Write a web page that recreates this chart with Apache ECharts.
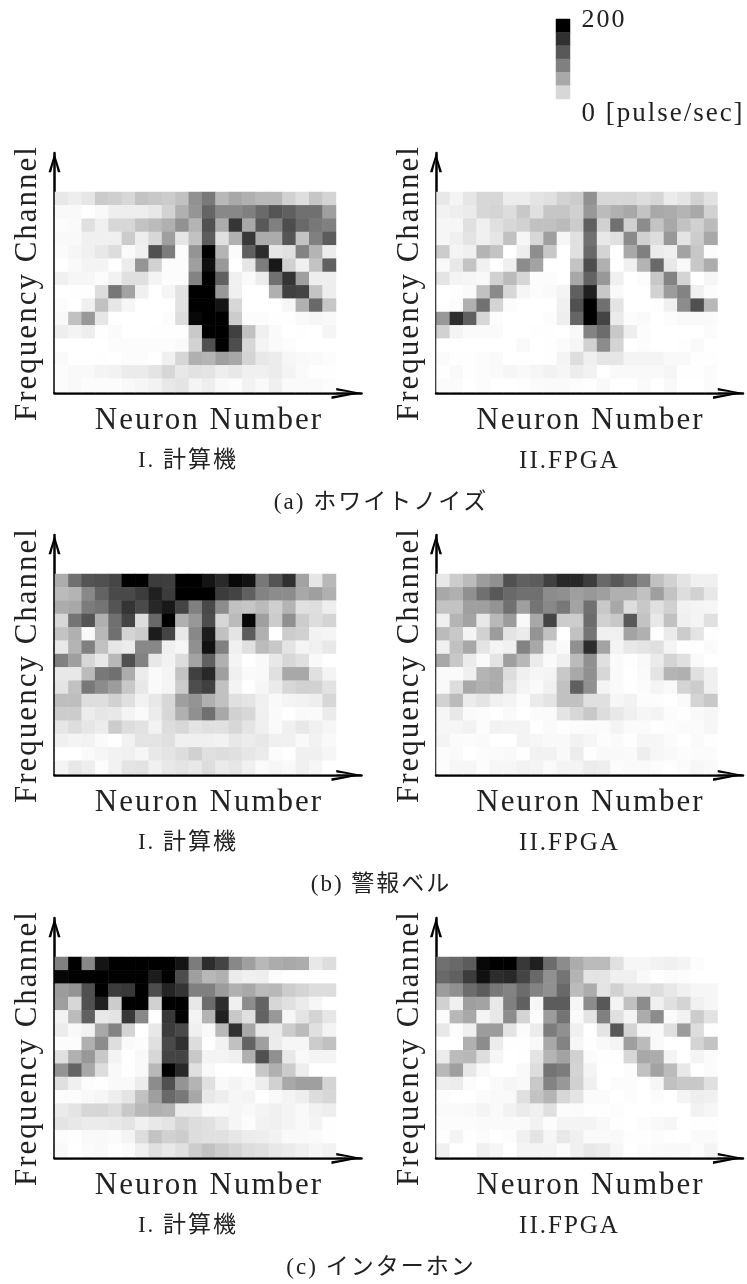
<!DOCTYPE html>
<html lang="ja">
<head>
<meta charset="utf-8">
<style>html,body{margin:0;padding:0;background:#fff}#c{width:747px;height:1284px}</style>
<script src="https://cdn.jsdelivr.net/npm/echarts@6/dist/echarts.min.js"></script>
</head>
<body>
<div id="c"></div>
<script>
// Values: firing rate [pulse/sec], 15 frequency channels (top to bottom) x 21 neurons
const whiteNoiseComputer = [
[18,13,20,41,38,31,47,43,40,49,86,105,56,68,62,56,56,36,26,45,34],
[5,5,0,5,13,13,13,18,35,62,83,121,93,93,100,117,133,125,112,112,75],
[2,4,24,12,31,31,47,53,62,86,59,137,65,158,68,131,100,140,118,106,100],
[5,5,12,12,12,40,13,31,75,20,48,128,24,62,156,65,65,133,47,100,128],
[3,7,12,18,27,4,12,137,102,2,84,200,59,3,125,165,20,24,97,59,15],
[0,5,9,9,1,15,84,36,2,2,75,189,81,0,20,102,181,36,12,47,125],
[12,7,7,2,10,24,24,9,2,2,97,200,125,12,4,15,112,159,75,13,13],
[0,1,1,27,107,72,12,0,8,23,200,200,81,12,0,0,62,150,147,47,13],
[2,0,12,49,20,7,0,0,0,23,200,200,184,31,0,0,0,7,62,118,45],
[5,49,81,20,0,0,0,0,2,27,194,200,200,40,2,2,1,1,5,7,5],
[13,9,13,1,4,0,0,1,1,1,42,200,200,150,49,12,4,0,1,0,8],
[0,0,0,0,2,2,2,2,2,4,35,137,200,140,31,9,4,2,0,0,0],
[4,0,0,1,0,2,2,0,12,32,62,59,75,68,34,18,15,7,5,4,2],
[2,5,5,9,10,16,16,21,32,18,23,21,13,18,12,12,15,9,4,1,1],
[2,5,2,2,2,5,7,10,18,21,9,13,5,2,10,5,12,4,4,4,2]];
const whiteNoiseFpga = [
[18,9,20,31,31,15,15,21,24,35,40,86,31,31,32,27,32,16,21,35,23],
[10,13,16,31,34,27,43,24,45,45,36,81,53,62,68,47,68,65,59,68,35],
[7,7,24,12,24,31,36,49,49,53,40,125,36,112,36,90,47,68,48,36,53],
[7,12,21,12,20,49,7,31,75,7,24,112,18,24,92,36,27,81,21,40,68],
[40,9,12,59,47,0,13,89,43,0,24,118,34,0,68,100,15,12,72,45,2],
[5,18,47,12,0,12,90,72,0,0,47,140,62,0,12,59,118,18,5,43,65],
[21,9,7,5,36,53,31,2,2,0,68,122,81,12,0,2,43,97,34,0,7],
[0,1,4,49,92,31,7,2,4,9,125,175,43,5,0,0,35,78,97,12,2],
[0,2,62,111,34,2,0,0,0,12,137,200,111,21,0,0,1,12,90,137,56],
[81,165,125,31,2,0,0,0,2,13,120,200,147,16,2,4,0,2,5,5,4],
[36,9,4,4,4,0,0,1,1,0,5,97,115,43,13,2,0,0,0,0,3],
[0,0,0,0,0,0,5,0,1,3,7,36,90,34,0,2,0,0,1,5,0],
[3,1,1,2,4,0,0,0,1,9,26,12,20,20,9,9,9,5,5,1,1],
[1,5,1,2,4,7,5,7,10,7,15,10,0,5,5,5,5,7,1,1,3],
[3,3,0,2,0,0,1,3,4,4,2,1,5,0,0,4,0,5,0,0,3]];
const alarmBellComputer = [
[64,112,134,137,145,200,200,153,151,200,200,184,167,194,186,106,134,162,72,20,56],
[53,59,93,122,143,143,153,175,153,200,200,200,153,147,125,97,90,90,68,75,62],
[65,68,103,109,134,159,142,169,181,147,100,143,90,49,45,53,38,59,24,26,13],
[31,109,134,62,112,147,27,118,200,62,81,140,31,53,195,75,40,87,40,27,34],
[47,62,5,56,112,34,40,178,147,18,93,178,49,21,128,62,0,40,36,10,8],
[18,59,100,49,20,15,93,93,12,7,87,187,100,12,24,53,43,21,9,12,18],
[100,75,31,18,56,137,97,18,10,27,72,125,62,9,1,5,18,31,24,5,0],
[18,18,53,106,112,65,15,4,9,47,150,169,75,12,4,5,24,68,68,24,9],
[21,49,106,90,78,43,18,4,9,40,140,150,49,9,0,7,16,31,36,35,23],
[51,51,26,26,36,24,10,18,31,75,84,62,49,24,21,12,5,9,10,13,31],
[40,40,15,20,18,9,4,15,31,62,87,112,68,36,31,12,4,1,5,4,16],
[20,27,20,15,40,27,23,10,27,31,21,24,24,31,21,12,4,12,18,12,7],
[12,9,10,4,0,10,21,21,24,12,12,12,10,18,15,18,12,12,5,10,5],
[0,0,4,7,10,12,7,18,21,27,36,24,27,24,20,16,2,0,12,12,7],
[9,18,13,2,10,21,23,12,18,21,18,27,16,20,12,4,7,5,12,7,0]];
const alarmBellFpga = [
[18,40,53,78,87,137,125,128,150,169,169,153,118,131,118,97,49,36,21,12,12],
[68,62,87,112,131,118,112,112,90,87,75,81,75,62,62,49,75,47,27,36,18],
[47,47,75,75,84,112,75,109,93,106,72,112,43,68,27,43,24,36,10,9,7],
[12,59,72,18,56,78,5,68,147,40,40,115,36,43,131,47,18,49,12,9,24],
[53,43,9,36,78,21,16,84,49,0,49,109,12,12,72,62,1,16,40,21,1],
[12,49,68,21,9,12,97,68,12,4,87,165,72,9,18,21,24,9,0,1,4],
[68,43,16,4,21,75,56,16,4,12,53,87,24,4,1,5,16,34,24,4,0],
[4,4,12,59,65,27,12,7,9,43,68,87,31,4,0,4,21,59,62,24,12],
[5,27,68,62,65,21,9,4,12,49,125,87,9,4,1,3,9,5,34,40,12],
[35,53,15,21,12,9,2,16,21,49,49,24,24,7,10,2,2,0,4,34,43],
[7,18,4,2,0,4,0,3,3,21,31,43,27,18,12,7,9,2,1,5,7],
[7,7,10,2,10,9,9,0,4,1,2,3,3,9,3,3,1,2,3,3,7],
[9,3,2,4,0,0,9,7,5,5,10,7,2,4,1,7,7,3,0,4,1],
[2,4,0,2,3,5,1,10,10,5,15,1,5,5,4,13,7,5,2,3,3],
[2,7,7,2,7,7,10,9,4,9,9,15,13,2,4,4,2,1,3,7,5]];
const intercomComputer = [
[100,200,93,184,200,200,200,200,200,184,103,165,147,93,75,56,65,68,65,18,27],
[195,200,200,200,200,200,200,178,200,140,75,56,62,16,12,13,3,1,1,0,0],
[78,84,137,200,153,156,200,140,172,159,100,100,78,62,68,53,56,40,34,27,27],
[75,31,137,175,40,200,200,36,200,200,18,115,165,12,90,122,31,24,16,7,0],
[10,53,125,18,21,156,93,0,156,200,9,59,175,43,24,122,81,7,21,34,20],
[15,5,10,68,97,34,0,18,153,143,12,5,56,162,68,18,16,40,53,24,9],
[2,2,62,90,26,4,2,24,143,162,27,1,10,49,122,75,15,7,7,40,49],
[24,62,81,43,9,0,5,31,147,147,43,9,9,12,62,137,87,18,5,9,9],
[84,122,68,27,5,1,5,56,200,169,24,5,0,0,1,43,62,40,13,0,0],
[24,12,2,1,5,5,15,90,137,84,59,24,5,9,5,13,36,68,75,75,34],
[2,2,5,7,13,21,49,75,118,106,68,18,13,7,9,0,5,9,13,27,31],
[16,21,31,32,27,43,56,62,59,15,15,5,5,7,5,9,12,9,5,10,13],
[21,18,16,16,18,21,12,18,21,34,27,24,16,7,2,10,12,9,5,9,1],
[2,1,5,5,3,9,27,47,36,40,27,24,24,20,15,13,10,5,5,4,1],
[5,0,3,5,1,3,12,24,18,24,40,49,40,34,27,24,18,16,12,7,10]];
const intercomFpga = [
[112,118,128,194,200,200,156,175,115,90,65,53,53,24,7,7,10,12,9,2,0],
[118,125,153,187,165,169,147,118,87,109,59,21,21,12,12,5,0,3,2,0,0],
[78,87,115,128,106,97,115,97,87,118,53,65,21,36,21,21,27,18,12,7,7],
[36,12,75,72,18,100,125,7,128,128,7,90,131,9,49,90,12,24,34,12,7],
[3,56,68,9,18,90,34,2,78,109,4,21,100,24,9,65,90,4,10,40,23],
[18,2,12,78,78,21,3,15,103,87,12,0,21,131,34,7,5,24,78,27,1],
[0,0,62,90,15,1,1,5,68,97,7,1,5,9,75,53,5,0,0,34,47],
[16,53,56,27,7,0,1,21,59,72,36,3,1,1,31,68,65,9,0,9,3],
[56,75,18,5,0,0,5,27,109,103,34,9,0,0,2,49,72,53,18,0,3],
[13,15,2,0,4,7,5,43,97,81,36,12,0,2,2,0,7,49,43,43,24],
[2,0,0,3,5,5,24,47,59,31,21,3,3,0,2,0,3,0,9,13,12],
[4,4,5,9,5,10,16,12,24,2,3,1,1,2,0,0,0,0,0,10,7],
[2,2,2,4,4,4,4,10,2,9,9,9,5,1,0,2,5,7,0,1,1],
[1,9,1,3,0,2,12,21,7,18,12,4,4,5,1,1,2,1,0,4,4],
[12,0,0,12,7,0,9,9,9,3,12,18,15,7,0,2,4,5,5,2,9]];
const colorbarLevels = [200,162,131,100,68,31];
const xAxisTitle = 'Neuron Number';
const yAxisTitle = 'Frequency Channel';
const methodLabels = ['I. 計算機','II.FPGA'];
const soundLabels = ['(a) ホワイトノイズ','(b) 警報ベル','(c) インターホン'];
const colorbarLabels = ['200','0 [pulse/sec]'];

const FONT = '"Liberation Serif","Noto Sans CJK JP",serif';
const panels = [
  {data:whiteNoiseComputer, col:0, row:0},{data:whiteNoiseFpga, col:1, row:0},
  {data:alarmBellComputer, col:0, row:1},{data:alarmBellFpga, col:1, row:1},
  {data:intercomComputer, col:0, row:2},{data:intercomFpga, col:1, row:2}];
const colX = [55, 436.5];          // left of the cells / y axis
const rowTop = [192, 574, 957];    // top of the cells
const axisBottom = [393, 775, 1158];
const methodSize = [23, 25];
const W = 281, H = 200;
const X_ARROW = 'path://M0 250L50 0L100 250L78 250L50 60L22 250Z';
const Y_ARROW = 'path://M0 160L50 0L100 160L78 160L50 50L22 160Z';

const hideCat = (n, inverse) => ({type:'category', data:Array.from({length:n},(_, i)=>i),
  inverse, show:false, boundaryGap:true});
const grid=[], xAxis=[], yAxis=[], series=[], graphic=[];

function text(s, x, y, size, rot) {
  graphic.push({type:'text', x, y, rotation:rot||0, silent:true,
    style:{text:s, font:`${size}px ${FONT}`, fill:'#222', textAlign:'center', textVerticalAlign:'middle'}});
}
panels.forEach(p => {
  const gi = grid.length;
  grid.push({left:colX[p.col], top:rowTop[p.row], width:W, height:H});
  xAxis.push(hideCat(21,false)); yAxis.push(hideCat(15,true));
  series.push({type:'heatmap', xAxisIndex:gi, yAxisIndex:gi, silent:true, progressive:0,
    data:p.data.flatMap((r,y)=>r.map((v,x)=>[x,y,v]))});
  // arrows
  const ai = grid.length;
  const top = axisBottom[p.row]-240, left = colX[p.col]-0.5;
  grid.push({left, top, width:307, height:240});
  xAxis.push({type:'value', min:0, max:1, axisTick:{show:false}, axisLabel:{show:false}, splitLine:{show:false},
    axisLine:{show:true, onZero:false, lineStyle:{color:'#000', width:2.5},
      symbol:['none',X_ARROW], symbolSize:[12,30], symbolOffset:[0,-15]}});
  yAxis.push({type:'value', min:0, max:1, axisTick:{show:false}, axisLabel:{show:false}, splitLine:{show:false},
    axisLine:{show:true, onZero:false, lineStyle:{color:'#000', width:2.5},
      symbol:['none',Y_ARROW], symbolSize:[12,19.2], symbolOffset:[0,-9.6]}});
  text(xAxisTitle, colX[p.col]+154, axisBottom[p.row]+28, 31);
  text(yAxisTitle, colX[p.col]-27, axisBottom[p.row]-110, 31, Math.PI/2);
  text(methodLabels[p.col], colX[p.col]+133, axisBottom[p.row]+68, methodSize[p.col]);
});
soundLabels.forEach((s,i)=>text(s, 381, axisBottom[i]+110, 23));

// colour bar
const ci = grid.length;
grid.push({left:556, top:19, width:14, height:80});
xAxis.push(hideCat(1,false)); yAxis.push(hideCat(colorbarLevels.length,true));
series.push({type:'heatmap', xAxisIndex:ci, yAxisIndex:ci, silent:true,
  data:colorbarLevels.map((v,y)=>[0,y,v])});
text(colorbarLabels[0], 604, 20, 26);
text(colorbarLabels[1], 663, 114, 27);

xAxis.forEach((a,i)=>{a.gridIndex=i}); yAxis.forEach((a,i)=>{a.gridIndex=i});

const el = document.getElementById('c');
const chart = echarts.init(el, null, {renderer:'canvas', width:747, height:1284});
chart.setOption({
  animation:false, backgroundColor:'#fff',
  grid, xAxis, yAxis, series, graphic,
  visualMap:{show:false, min:0, max:200, calculable:false, seriesIndex:series.map((_,i)=>i),
    inRange:{color:['#ffffff','#000000']}}
});
// the reference typesets its text with wide tracking
el.querySelectorAll('canvas').forEach(cv => { cv.getContext('2d').letterSpacing = '2px'; });
chart.getZr().painter.refresh(true);
</script>
</body>
</html>
